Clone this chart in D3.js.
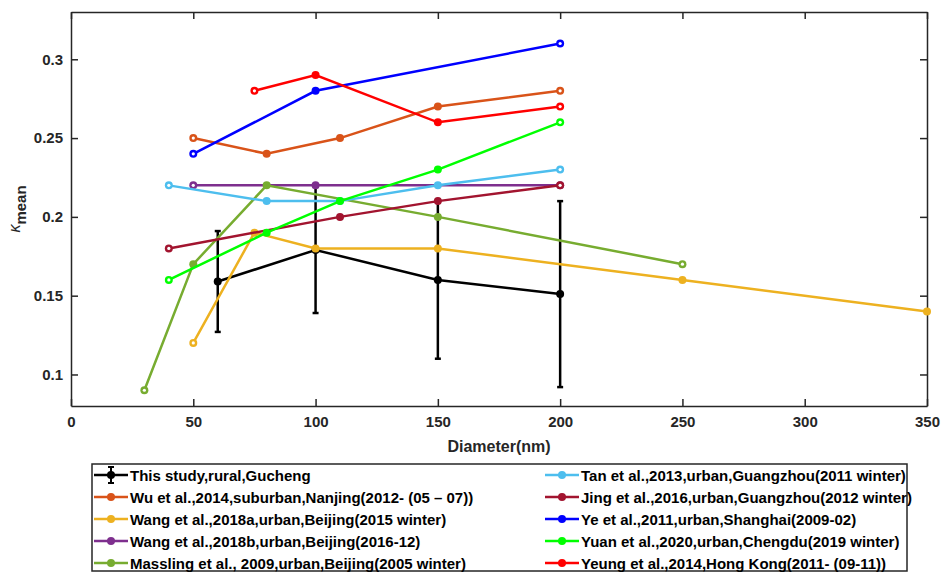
<!DOCTYPE html>
<meta charset="utf-8">
<style>
    body { margin: 0; background: #fff; }
    text { font-family: Arial, "Liberation Sans", sans-serif; }
    .axis text { font-size: 15px; font-weight: bold; fill: #262626; }
    .axis path, .axis line { stroke: #262626; stroke-width: 1.5px; }
    .legend text { font-size: 15px; font-weight: bold; fill: #000; }
</style>
<svg width="944" height="574"></svg>
<script src="https://d3js.org/d3.v7.min.js"></script>
<script>
    // diameters (nm) and kappa values per study
    var names = [
        "This study,rural,Gucheng",
        "Wu et al.,2014,suburban,Nanjing(2012- (05 \u2013 07))",
        "Wang et al.,2018a,urban,Beijing(2015 winter)",
        "Wang et al.,2018b,urban,Beijing(2016-12)",
        "Massling et al., 2009,urban,Beijing(2005 winter)",
        "Tan et al.,2013,urban,Guangzhou(2011 winter)",
        "Jing et al.,2016,urban,Guangzhou(2012 winter)",
        "Ye et al.,2011,urban,Shanghai(2009-02)",
        "Yuan et al.,2020,urban,Chengdu(2019 winter)",
        "Yeung et al.,2014,Hong Kong(2011- (09-11))"
    ];
    var colors = ["#000000", "#D95319", "#EDB120", "#7E2F8E", "#77AC30",
                  "#4DBEEE", "#A2142F", "#0000FF", "#00FF00", "#FF0000"];

    var thisX   = [60, 100, 150, 200];
    var thisY   = [0.159, 0.179, 0.160, 0.151];
    var thisErr = [0.032, 0.040, 0.050, 0.059];

    var wuX = [50, 80, 110, 150, 200],            wuY = [0.25, 0.24, 0.25, 0.27, 0.28];
    var wangaX = [50, 75, 100, 150, 250, 350],    wangaY = [0.12, 0.19, 0.18, 0.18, 0.16, 0.14];
    var wangbX = [50, 100, 200],                  wangbY = [0.22, 0.22, 0.22];
    var masX = [30, 50, 80, 150, 250],            masY = [0.09, 0.17, 0.22, 0.20, 0.17];
    var tanX = [40, 80, 110, 150, 200],           tanY = [0.22, 0.21, 0.21, 0.22, 0.23];
    var jingX = [40, 110, 150, 200],              jingY = [0.18, 0.20, 0.21, 0.22];
    var yeX = [50, 100, 200],                     yeY = [0.24, 0.28, 0.31];
    var yuanX = [40, 80, 110, 150, 200],          yuanY = [0.16, 0.19, 0.21, 0.23, 0.26];
    var yeungX = [75, 100, 150, 200],             yeungY = [0.28, 0.29, 0.26, 0.27];

    var xTicks = [0, 50, 100, 150, 200, 250, 300, 350];
    var yTicks = [0.1, 0.15, 0.2, 0.25, 0.3];

    var seriesX = [thisX, wuX, wangaX, wangbX, masX, tanX, jingX, yeX, yuanX, yeungX];
    var seriesY = [thisY, wuY, wangaY, wangbY, masY, tanY, jingY, yeY, yuanY, yeungY];

    var svg = d3.select("svg");
    var m = {left: 71, right: 927, top: 12, bottom: 406};

    var x = d3.scaleLinear().domain([0, 350]).range([m.left, m.right]);
    var y = d3.scaleLinear().domain([0.08, 0.33]).range([m.bottom, m.top]);

    // axes, ticks pointing inwards on all four sides
    svg.append("g").attr("class", "axis")
        .attr("transform", "translate(0," + m.bottom + ")")
        .call(d3.axisBottom(x).tickValues(xTicks).tickSizeInner(-7).tickSizeOuter(0).tickPadding(10));
    svg.append("g").attr("class", "axis")
        .attr("transform", "translate(0," + m.top + ")")
        .call(d3.axisTop(x).tickValues(xTicks).tickSizeInner(-7).tickSizeOuter(0).tickFormat(""));
    svg.append("g").attr("class", "axis")
        .attr("transform", "translate(" + m.left + ",0)")
        .call(d3.axisLeft(y).tickValues(yTicks).tickSizeInner(-7).tickSizeOuter(0).tickPadding(8)
            .tickFormat(function (d) { return String(d); }));
    svg.append("g").attr("class", "axis")
        .attr("transform", "translate(" + m.right + ",0)")
        .call(d3.axisRight(y).tickValues(yTicks).tickSizeInner(-7).tickSizeOuter(0).tickFormat(""));
    svg.selectAll(".axis .domain").attr("stroke", "#262626").attr("stroke-width", 1.5);

    svg.append("text")
        .attr("x", (m.left + m.right) / 2).attr("y", 452)
        .attr("text-anchor", "middle")
        .style("font-size", "16px").style("font-weight", "bold").style("fill", "#262626")
        .text("Diameter(nm)");

    var yl = svg.append("text")
        .attr("transform", "translate(20," + ((m.top + m.bottom) / 2) + ") rotate(-90)")
        .attr("text-anchor", "middle")
        .style("fill", "#262626");
    yl.append("tspan").style("font-size", "16px").style("font-style", "italic").text("\u03ba");
    yl.append("tspan").attr("dy", 6).style("font-size", "15px").style("font-weight", "bold").text("mean");

    var line = d3.line().x(function (d) { return x(d[0]); }).y(function (d) { return y(d[1]); });

    seriesX.forEach(function (xs, i) {
        var pts = xs.map(function (v, j) { return [v, seriesY[i][j]]; });
        var g = svg.append("g");
        if (i === 0) {
            pts.forEach(function (p, j) {
                var lo = y(p[1] - thisErr[j]), hi = y(p[1] + thisErr[j]);
                g.append("line").attr("x1", x(p[0])).attr("x2", x(p[0]))
                    .attr("y1", lo).attr("y2", hi).attr("stroke", "#000").attr("stroke-width", 2.5);
                [lo, hi].forEach(function (yy) {
                    g.append("line").attr("x1", x(p[0]) - 3).attr("x2", x(p[0]) + 3)
                        .attr("y1", yy).attr("y2", yy).attr("stroke", "#000").attr("stroke-width", 2.5);
                });
            });
        }
        g.append("path").datum(pts).attr("d", line)
            .attr("fill", "none").attr("stroke", colors[i]).attr("stroke-width", 2.5);
        g.selectAll("circle.mk").data(pts).enter().append("circle")
            .attr("cx", function (d) { return x(d[0]); })
            .attr("cy", function (d) { return y(d[1]); })
            .attr("r", 4).attr("fill", colors[i]);
        if (i > 0) {
            // open end markers (the far end of the Wang 2018a series is filled)
            var ends = i === 2 ? [pts[0]] : [pts[0], pts[pts.length - 1]];
            g.selectAll("circle.hole").data(ends).enter().append("circle")
                .attr("cx", function (d) { return x(d[0]); })
                .attr("cy", function (d) { return y(d[1]); })
                .attr("r", 1.6).attr("fill", "#fff");
        }
    });

    // legend
    var lg = svg.append("g").attr("class", "legend");
    lg.append("rect").attr("x", 92).attr("y", 464).attr("width", 815).attr("height", 107)
        .attr("fill", "#fff").attr("stroke", "#262626").attr("stroke-width", 1.5);
    names.forEach(function (name, i) {
        var col = i < 5 ? 0 : 1, row = i % 5;
        var x0 = col === 0 ? 94 : 545, x1 = x0 + 34, cy = 475 + row * 22;
        var item = lg.append("g");
        item.append("line").attr("x1", x0).attr("x2", x1).attr("y1", cy).attr("y2", cy)
            .attr("stroke", colors[i]).attr("stroke-width", 2.5);
        if (i === 0) {
            item.append("line").attr("x1", (x0 + x1) / 2).attr("x2", (x0 + x1) / 2)
                .attr("y1", cy - 8).attr("y2", cy + 8).attr("stroke", "#000").attr("stroke-width", 2);
            [cy - 8, cy + 8].forEach(function (yy) {
                item.append("line").attr("x1", (x0 + x1) / 2 - 3).attr("x2", (x0 + x1) / 2 + 3)
                    .attr("y1", yy).attr("y2", yy).attr("stroke", "#000").attr("stroke-width", 2);
            });
        }
        item.append("circle").attr("cx", (x0 + x1) / 2).attr("cy", cy).attr("r", 4).attr("fill", colors[i]);
        item.append("text").attr("x", x1 + 2).attr("y", cy + 5.5).text(name);
    });
</script>
